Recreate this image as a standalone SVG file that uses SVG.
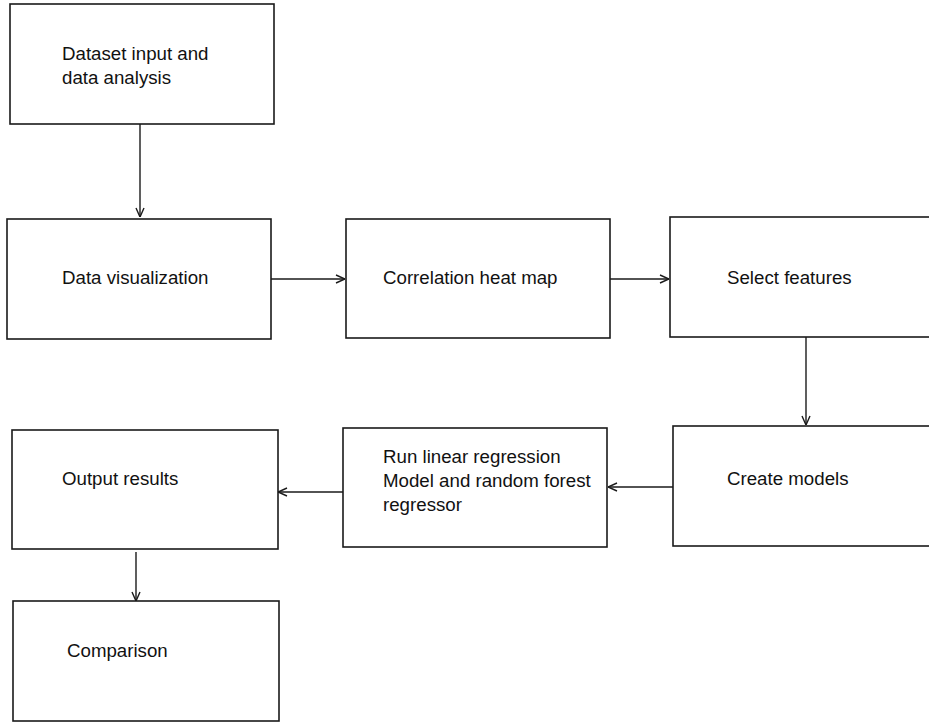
<svg xmlns="http://www.w3.org/2000/svg" width="929" height="722" viewBox="0 0 929 722">
<style>
.box{fill:#fff;stroke:#1a1a1a;stroke-width:1.6}
.lbl{font-family:"Liberation Sans",Arial,sans-serif;font-size:18.7px;fill:#111}
.con{stroke:#1a1a1a;stroke-width:1.4;fill:none;marker-end:url(#ah)}
</style>
<defs>
<marker id="ah" viewBox="0 0 10 10" refX="10" refY="5" markerWidth="10" markerHeight="10" markerUnits="userSpaceOnUse" orient="auto">
<path d="M1,1 L10,5 L1,9" fill="none" stroke="#1a1a1a" stroke-width="1.4"/>
</marker>
</defs>
<rect width="929" height="722" fill="#fff"/>
<g id="connectors">
<line class="con" x1="140" y1="124" x2="140" y2="217"/>
<line class="con" x1="271" y1="279" x2="345" y2="279"/>
<line class="con" x1="610" y1="279" x2="669" y2="279"/>
<line class="con" x1="806" y1="337" x2="806" y2="425"/>
<line class="con" x1="673" y1="487" x2="608" y2="487"/>
<line class="con" x1="343" y1="492" x2="278" y2="492"/>
<line class="con" x1="136" y1="552" x2="136" y2="601"/>
</g>
<g id="n1"><rect class="box" x="10" y="4" width="264" height="120"/><text class="lbl" x="62" y="60">Dataset input and</text><text class="lbl" x="62" y="84">data analysis</text></g>
<g id="n2"><rect class="box" x="7" y="219" width="264" height="120"/><text class="lbl" x="62" y="284">Data visualization</text></g>
<g id="n3"><rect class="box" x="346" y="219" width="264" height="119"/><text class="lbl" x="383" y="284">Correlation heat map</text></g>
<g id="n4"><rect class="box" x="670" y="217" width="270" height="120"/><text class="lbl" x="727" y="284">Select features</text></g>
<g id="n5"><rect class="box" x="673" y="426" width="270" height="120"/><text class="lbl" x="727" y="485">Create models</text></g>
<g id="n6"><rect class="box" x="343" y="428" width="264" height="119"/><text class="lbl" x="383" y="463">Run linear regression</text><text class="lbl" x="383" y="487">Model and random forest</text><text class="lbl" x="383" y="511">regressor</text></g>
<g id="n7"><rect class="box" x="12" y="430" width="266" height="119"/><text class="lbl" x="62" y="485">Output results</text></g>
<g id="n8"><rect class="box" x="13" y="601" width="266" height="120"/><text class="lbl" x="67" y="657">Comparison</text></g>
</svg>
